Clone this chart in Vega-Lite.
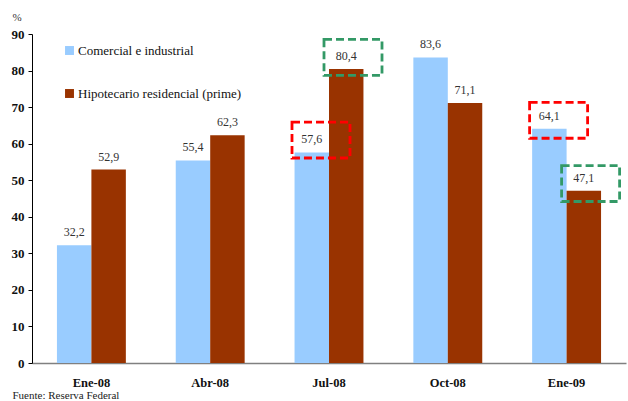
{
  "$schema": "https://vega.github.io/schema/vega-lite/v6.json",
  "autosize": "none",
  "width": 594,
  "height": 329,
  "padding": {"left": 32, "top": 34, "right": 2, "bottom": 38},
  "background": "white",
  "config": {"view": {"stroke": null}, "font": "Liberation Serif"},
  "datasets": {
    "bars": [
      {"month": "Ene-08", "series": "Comercial e industrial", "value": 32.2, "label": "32,2"},
      {"month": "Ene-08", "series": "Hipotecario residencial (prime)", "value": 52.9, "label": "52,9"},
      {"month": "Abr-08", "series": "Comercial e industrial", "value": 55.4, "label": "55,4"},
      {"month": "Abr-08", "series": "Hipotecario residencial (prime)", "value": 62.3, "label": "62,3"},
      {"month": "Jul-08", "series": "Comercial e industrial", "value": 57.6, "label": "57,6"},
      {"month": "Jul-08", "series": "Hipotecario residencial (prime)", "value": 80.4, "label": "80,4"},
      {"month": "Oct-08", "series": "Comercial e industrial", "value": 83.6, "label": "83,6"},
      {"month": "Oct-08", "series": "Hipotecario residencial (prime)", "value": 71.1, "label": "71,1"},
      {"month": "Ene-09", "series": "Comercial e industrial", "value": 64.1, "label": "64,1"},
      {"month": "Ene-09", "series": "Hipotecario residencial (prime)", "value": 47.1, "label": "47,1"}
    ],
    "boxes": [
      {"month": "Jul-08", "series": "Comercial e industrial", "center": 61.0, "boxcolor": "#FF0000"},
      {"month": "Jul-08", "series": "Hipotecario residencial (prime)", "center": 83.6, "boxcolor": "#339966"},
      {"month": "Ene-09", "series": "Comercial e industrial", "center": 66.4, "boxcolor": "#FF0000"},
      {"month": "Ene-09", "series": "Hipotecario residencial (prime)", "center": 49.1, "boxcolor": "#339966"}
    ]
  },
  "encoding": {
    "x": {
      "field": "month", "type": "nominal",
      "sort": ["Ene-08", "Abr-08", "Jul-08", "Oct-08", "Ene-09"],
      "scale": {"paddingInner": 0.42, "paddingOuter": 0.21},
      "axis": {"title": "Fuente: Reserva Federal", "titleAnchor": "start", "titleAlign": "left", "titleBaseline": "middle", "titleX": -20, "titleY": 32, "titleFont": "Liberation Serif", "titleFontSize": 11, "titleFontWeight": "normal", "titleColor": "#222222",
        "labelAngle": 0, "ticks": false, "domainColor": "#808080", "domainWidth": 1.5, "labelFont": "Liberation Serif", "labelFontSize": 12.5, "labelFontWeight": "bold", "labelColor": "#111111", "labelPadding": 13}
    },
    "y": {
      "type": "quantitative",
      "scale": {"domain": [0, 90], "nice": false},
      "axis": {"title": "%", "titleAngle": 0, "titleAlign": "left", "titleBaseline": "middle", "titleX": -20, "titleY": -17, "titleFont": "Liberation Serif", "titleFontSize": 11, "titleFontWeight": "normal", "titleColor": "#333333",
        "values": [0, 10, 20, 30, 40, 50, 60, 70, 80, 90], "grid": false, "tickSize": 4, "tickColor": "#000000", "domainColor": "#000000", "labelFont": "Liberation Serif", "labelFontSize": 13, "labelFontWeight": "bold", "labelColor": "#111111", "labelPadding": 4}
    }
  },
  "layer": [
    {
      "data": {"name": "bars"},
      "mark": {"type": "bar"},
      "encoding": {
        "xOffset": {"field": "series", "type": "nominal", "sort": ["Comercial e industrial", "Hipotecario residencial (prime)"], "scale": {"paddingInner": 0, "paddingOuter": 0}},
        "y": {"field": "value", "type": "quantitative"},
        "color": {"field": "series", "type": "nominal",
          "scale": {"domain": ["Comercial e industrial", "Hipotecario residencial (prime)"], "range": ["#99CCFF", "#993300"]},
          "legend": {"title": null, "orient": "none", "legendX": 31, "legendY": 10, "symbolType": "square", "symbolSize": 80, "symbolStrokeWidth": 0, "labelFont": "Liberation Serif", "labelFontSize": 13, "labelColor": "#111111", "rowPadding": 29, "labelOffset": 2, "labelLimit": 300}
        }
      }
    },
    {
      "data": {"name": "bars"},
      "mark": {"type": "text", "baseline": "middle", "dy": -13, "font": "Liberation Serif", "fontSize": 12, "color": "#333333"},
      "encoding": {
        "xOffset": {"field": "series", "type": "nominal", "sort": ["Comercial e industrial", "Hipotecario residencial (prime)"]},
        "y": {"field": "value", "type": "quantitative"},
        "text": {"field": "label"}
      }
    },
    {
      "data": {"name": "boxes"},
      "transform": [{"filter": "datum.series == 'Comercial e industrial'"}],
      "mark": {"type": "point", "shape": "M-1,-0.62H1V0.62H-1Z", "size": 3364, "filled": false, "strokeWidth": 2.8, "strokeDash": [8, 4], "xOffset": -8, "opacity": 1},
      "encoding": {
        "y": {"field": "center", "type": "quantitative"},
        "stroke": {"field": "boxcolor", "type": "nominal", "scale": null, "legend": null}
      }
    },
    {
      "data": {"name": "boxes"},
      "transform": [{"filter": "datum.series == 'Hipotecario residencial (prime)'"}],
      "mark": {"type": "point", "shape": "M-1,-0.62H1V0.62H-1Z", "size": 3364, "filled": false, "strokeWidth": 2.8, "strokeDash": [8, 4], "xOffset": 24, "opacity": 1},
      "encoding": {
        "y": {"field": "center", "type": "quantitative"},
        "stroke": {"field": "boxcolor", "type": "nominal", "scale": null, "legend": null}
      }
    }
  ]
}
